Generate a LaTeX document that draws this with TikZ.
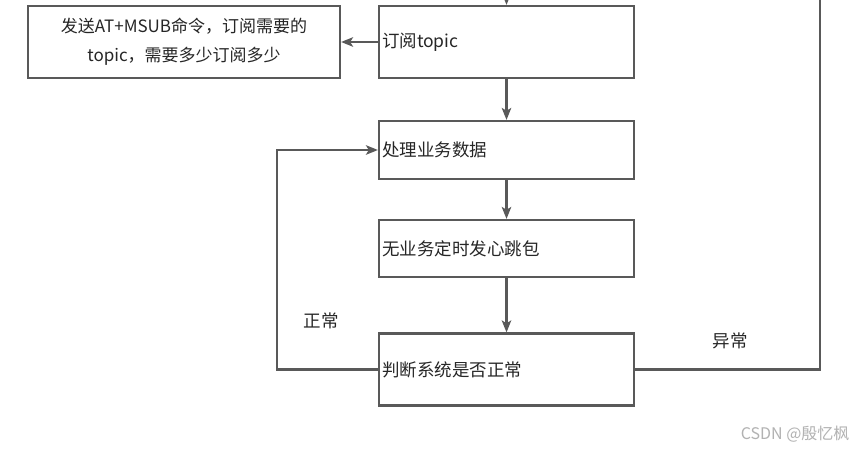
\documentclass[tikz,border=0pt]{standalone}
\usepackage{fontspec}
\newfontfamily\cjk{Noto Sans CJK SC}
\usetikzlibrary{arrows.meta}
\definecolor{linegray}{HTML}{595959}
\definecolor{textgray}{HTML}{262626}
\tikzset{
  box/.style={draw=linegray,line width=2.2pt,fill=white,minimum height=72pt,
    inner xsep=3pt,text width=249pt,align=left,text=textgray,
    font=\cjk\fontsize{17.5}{20}\selectfont},
  arr/.style={draw=linegray,line width=2.2pt,-{Stealth[length=12pt,width=9.5pt,inset=3pt]}},
  wire/.style={draw=linegray,line width=2.2pt},
  lbl/.style={text=textgray,font=\cjk\fontsize{17.5}{20}\selectfont}
}
\begin{document}
\begin{tikzpicture}[x=1pt,y=-1pt]
\clip(0,0) rectangle (857,449);
\fill[white] (0,0) rectangle (857,449);
\node[box] (sub) at (506.5,42) {订阅topic};
\node[box,text width=306pt,align=center,font=\cjk\fontsize{17}{29}\selectfont] (send) at (184,42) {发送AT+MSUB命令，订阅需要的\\topic，需要多少订阅多少};
\node[box,minimum height=58pt] (work) at (506.5,150) {处理业务数据};
\node[box,minimum height=57pt] (beat) at (506.5,248.5) {无业务定时发心跳包};
\node[box] (check) at (506.5,369.5) {判断系统是否正常};
\coordinate (top) at (506.5,-20);
\coordinate (up) at (820,-20);
\draw[arr] (top) -- (sub);
\draw[arr] (sub) -- (send);
\draw[arr] (sub) -- (work);
\draw[arr] (work) -- (beat);
\draw[arr] (beat) -- (check);
\draw[arr] (check.west) -- ++(-101,0) |- (work.west);
\draw[wire] (check.east) -| (up);
\node[lbl] (ok) at (321,321) {正常};
\node[lbl] (bad) at (730,341) {异常};
\node[anchor=east,text=black!30,font=\cjk\fontsize{16}{18}\selectfont] (mark) at (853,434) {CSDN @殷忆枫};
\end{tikzpicture}
\end{document}
